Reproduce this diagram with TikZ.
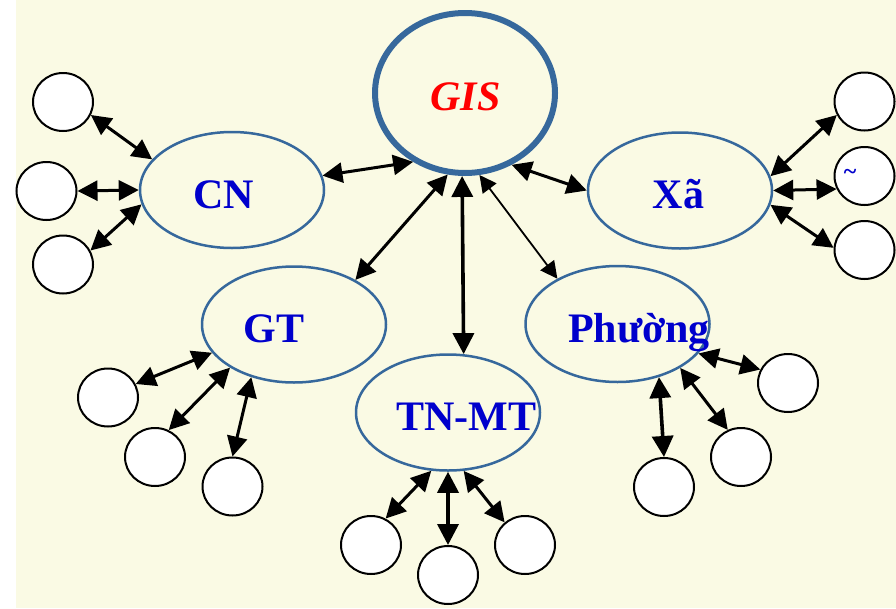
\documentclass[tikz,border=0pt]{standalone}
\usepackage{fontspec}
\setmainfont{Liberation Serif}
\usetikzlibrary{arrows.meta,shapes.geometric}
\definecolor{paper}{RGB}{250,250,228}
\definecolor{rim}{RGB}{54,104,156}
\definecolor{labelblue}{RGB}{0,0,204}
\begin{document}
\begin{tikzpicture}[x=1pt,y=-1pt,
  hub/.style={ellipse, draw=rim, line width=6pt, minimum width=180pt, minimum height=160pt, inner sep=0pt},
  branch/.style={ellipse, draw=rim, line width=2.5pt, minimum width=184pt, minimum height=116pt, inner sep=0pt},
  leaf/.style={ellipse, draw=black, fill=white, line width=2pt, minimum width=60pt, minimum height=58pt, inner sep=0pt},
  caption/.style={font=\bfseries\fontsize{42}{42}\selectfont, text=labelblue, anchor=base, inner sep=0pt},
  headtip/.style={arrows={Triangle[length=#1,width=#1]-Triangle[length=#1,width=#1]}},
  link/.style={line width=3pt, headtip=20pt},
  boldlink/.style={line width=3.6pt, headtip=21pt},
  thinlink/.style={line width=1.8pt, headtip=17pt}]

% page background
\useasboundingbox (0,0) rectangle (896,608);
\fill[white] (0,0) rectangle (896,608);
\fill[paper] (16,0) rectangle (896,608);

% central hub and branches
\node[hub] (GIS) at (465,93) {};
\node[branch] (CN) at (232,190) {};
\node[branch] (XA) at (680,190.5) {};
\node[branch] (GT) at (294,324.5) {};
\node[branch] (TN) at (448,412.5) {};
\node[branch] (PH) at (617.5,324) {};

\node[caption, text=red, font=\bfseries\itshape\fontsize{42}{42}\selectfont] (GIStext) at (465.5,110) {GIS};
\node[caption] (CNtext) at (223.5,208) {CN};
\node[caption] (XAtext) at (678.5,208) {Xã};
\node[caption] (GTtext) at (274,342) {GT};
\node[caption] (TNtext) at (466.5,430) {TN-MT};
\node[caption] (PHtext) at (639,342) {Phường};

% leaves
\node[leaf] (c1) at (63,102) {};
\node[leaf] (c2) at (46.5,191) {};
\node[leaf] (c3) at (63,264.5) {};
\node[leaf] (x1) at (864.5,101.5) {};
\node[leaf] (x2) at (864.5,176) {};
\node[leaf] (x3) at (864.5,250) {};
\node[leaf] (g1) at (108,397.5) {};
\node[leaf] (g2) at (155,457) {};
\node[leaf] (g3) at (232.5,486.5) {};
\node[leaf] (t1) at (371,545) {};
\node[leaf] (t2) at (448,575) {};
\node[leaf] (t3) at (525,545) {};
\node[leaf] (p1) at (788,383) {};
\node[leaf] (p2) at (741,457) {};
\node[leaf] (p3) at (664,487) {};

\node[text=labelblue, font=\bfseries\fontsize{24}{24}\selectfont, inner sep=0pt] (tilde) at (850,174) {\textasciitilde};

% hub links
\draw[link] (GIS.233.8) -- (CN.9.2);
\draw[link] (GIS.258.3) -- (GT.36.4);
\draw[boldlink] (GIS.268.8) -- (TN.75.7);
\draw[thinlink] (GIS.280.2) -- (PH.143.5);
\draw[link] (GIS.303.6) -- (XA.180);

% CN leaves
\draw[link] (c1.-25.2) -- (CN.159.6);
\draw[link] (c2.0) -- (CN.180);
\draw[link] (c3.27.4) -- (CN.189.8);

% Xa leaves
\draw[link] (XA.9.5) -- (x1.206.5);
\draw[link] (XA.0) -- (x2.205.7);
\draw[link] (XA.-9.3) -- (x3.176.9);

% GT leaves
\draw[link] (GT.199.9) -- (g1.26.3);
\draw[link] (GT.214.8) -- (g2.63.7);
\draw[link] (GT.231.5) -- (g3.90);

% TN-MT leaves
\draw[link] (TN.254.8) -- (t1.61.5);
\draw[boldlink] (TN.270) -- (t2.90);
\draw[link] (TN.285.6) -- (t3.132.4);

% Phuong leaves
\draw[link] (PH.-20.2) -- (p1.154.8);
\draw[link] (PH.-35) -- (p2.116.3);
\draw[boldlink] (PH.-52.2) -- (p3.90);
\end{tikzpicture}
\end{document}
